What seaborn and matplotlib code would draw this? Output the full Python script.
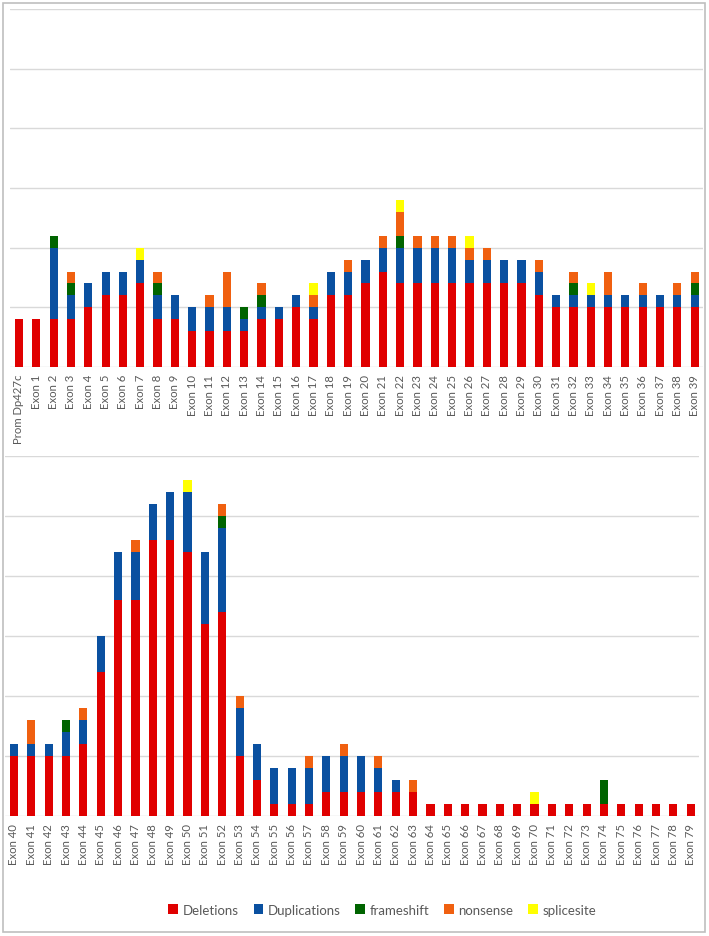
# import libraries
import numpy as np
import matplotlib.pyplot as plt
import pandas as pd
import seaborn as sns
from matplotlib.patches import Patch, Rectangle

# Data (counts per exon)
exons = ["Prom Dp427c"] + [f"Exon {i}" for i in range(1, 80)]

deletions = [4, 4, 4, 4, 5, 6, 6, 7, 4, 4,
             3, 3, 3, 3, 4, 4, 5, 4, 6, 6,
             7, 8, 7, 7, 7, 7, 7, 7, 7, 7,
             6, 5, 5, 5, 5, 5, 5, 5, 5, 5,
             5, 5, 5, 5, 6, 12, 18, 18, 23, 23,
             22, 16, 17, 5, 3, 1, 1, 1, 2, 2,
             2, 2, 2, 2, 1, 1, 1, 1, 1, 1,
             1, 1, 1, 1, 1, 1, 1, 1, 1, 1]
duplications = [0, 0, 6, 2, 2, 2, 2, 2, 2, 2,
                2, 2, 2, 1, 1, 1, 1, 1, 2, 2,
                2, 2, 3, 3, 3, 3, 2, 2, 2, 2,
                2, 1, 1, 1, 1, 1, 1, 1, 1, 1,
                1, 1, 1, 2, 2, 3, 4, 4, 3, 4,
                5, 6, 7, 4, 3, 3, 3, 3, 3, 3,
                3, 2, 1, 0, 0, 0, 0, 0, 0, 0,
                0, 0, 0, 0, 0, 0, 0, 0, 0, 0]
frameshift = [0, 0, 1, 1, 0, 0, 0, 0, 1, 0,
              0, 0, 0, 1, 1, 0, 0, 0, 0, 0,
              0, 0, 1, 0, 0, 0, 0, 0, 0, 0,
              0, 0, 1, 0, 0, 0, 0, 0, 0, 1,
              0, 0, 0, 1, 0, 0, 0, 0, 0, 0,
              0, 0, 1, 0, 0, 0, 0, 0, 0, 0,
              0, 0, 0, 0, 0, 0, 0, 0, 0, 0,
              0, 0, 0, 0, 2, 0, 0, 0, 0, 0]
nonsense = [0, 0, 0, 1, 0, 0, 0, 0, 1, 0,
            0, 1, 3, 0, 1, 0, 0, 1, 0, 1,
            0, 1, 2, 1, 1, 1, 1, 1, 0, 0,
            1, 0, 1, 0, 2, 0, 1, 0, 1, 1,
            0, 2, 0, 0, 1, 0, 0, 1, 0, 0,
            0, 0, 1, 1, 0, 0, 0, 1, 0, 1,
            0, 1, 0, 1, 0, 0, 0, 0, 0, 0,
            0, 0, 0, 0, 0, 0, 0, 0, 0, 0]
splicesite = [0, 0, 0, 0, 0, 0, 0, 1, 0, 0,
              0, 0, 0, 0, 0, 0, 0, 1, 0, 0,
              0, 0, 1, 0, 0, 0, 1, 0, 0, 0,
              0, 0, 0, 1, 0, 0, 0, 0, 0, 0,
              0, 0, 0, 0, 0, 0, 0, 0, 0, 0,
              1, 0, 0, 0, 0, 0, 0, 0, 0, 0,
              0, 0, 0, 0, 0, 0, 0, 0, 0, 0,
              1, 0, 0, 0, 0, 0, 0, 0, 0, 0]

series = ["Deletions", "Duplications", "frameshift", "nonsense", "splicesite"]
colors = ["#E00000", "#0A50A0", "#006400", "#F06010", "#FFFF00"]

df = pd.DataFrame({"exon": exons, "Deletions": deletions, "Duplications": duplications,
                   "frameshift": frameshift, "nonsense": nonsense, "splicesite": splicesite})
# cumulative stacks, drawn from the top layer down
cum = df[series].cumsum(axis=1)

sns.set_style("white")
plt.rcParams["font.family"] = ["Lato", "DejaVu Sans"]

fig = plt.figure(figsize=(7.09, 9.37), dpi=100)
ax_top = fig.add_axes([0.0145, 0.6073, 0.9776, 0.3820])
ax_bot = fig.add_axes([0.0075, 0.1281, 0.9790, 0.3842])

for ax, part in [(ax_top, slice(0, 40)), (ax_bot, slice(40, 80))]:
    sub = df.iloc[part]
    order = list(sub["exon"])
    for s, c in reversed(list(zip(series, colors))):
        sns.barplot(x=sub["exon"], y=cum.iloc[part][s], order=order, color=c,
                    saturation=1, width=0.47, linewidth=0, errorbar=None, ax=ax)
    ax.set_xlim(-0.5, 39.5)
    ax.set_ylim(0, 30)
    ax.set_yticks(range(0, 31, 5))
    ax.set_yticklabels([])
    ax.set_xlabel("")
    ax.set_ylabel("")
    ax.yaxis.grid(True, color="#d9d9d9", linewidth=1)
    ax.set_axisbelow(True)
    for sp in ax.spines.values():
        sp.set_visible(False)
    ax.tick_params(axis="x", rotation=90, length=0, pad=5, labelsize=8.2, labelcolor="#595959")
    ax.tick_params(axis="y", length=0)

# outer frame
fig.add_artist(Rectangle((3 / 709, 4 / 937), 702 / 709, 929 / 937, transform=fig.transFigure,
                         fill=False, edgecolor="#bfbfbf", linewidth=1.2))

handles = [Patch(facecolor=c, edgecolor="none", label=s) for s, c in zip(series, colors)]
fig.legend(handles=handles, loc="center", bbox_to_anchor=(0.539, 0.028), ncol=5, frameon=False,
           fontsize=9.5, labelcolor="#595959", handlelength=0.75, handleheight=0.75,
           handletextpad=0.3, columnspacing=1.15)

plt.savefig("out.png", dpi=100)
